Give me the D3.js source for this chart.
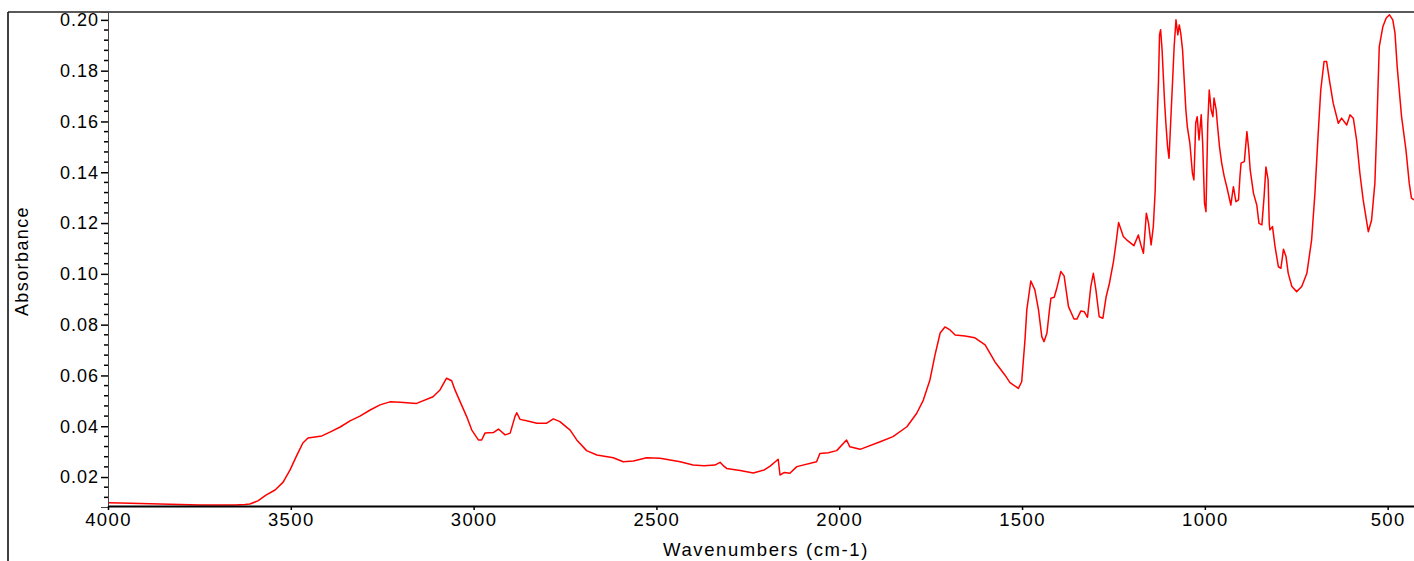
<!DOCTYPE html>
<html>
<head>
<meta charset="utf-8">
<script src="https://cdn.jsdelivr.net/npm/d3@7"></script>
<style>
  body { margin: 0; background: #fff; }
  svg { display: block; font-family: "Liberation Sans", Arial, sans-serif; }
</style>
</head>
<body>
<div id="chart"></div>
<script>
// spectrum (wavenumber cm-1, absorbance)
const wavenumbers = [
  4000, 3967, 3912, 3858, 3803, 3748, 3694, 3653, 3625, 3612,
  3590, 3568, 3543, 3521, 3502, 3483, 3467, 3453, 3434, 3415,
  3393, 3365, 3338, 3311, 3283, 3256, 3229, 3201, 3156, 3111,
  3092, 3074, 3060, 3051, 3037, 3019, 3005, 2987, 2978, 2969,
  2946, 2932, 2914, 2900, 2887, 2882, 2873, 2855, 2827, 2800,
  2782, 2764, 2736, 2718, 2691, 2663, 2618, 2591, 2563, 2527,
  2490, 2435, 2400, 2370, 2340, 2326, 2318, 2308, 2271, 2235,
  2205, 2189, 2167, 2162, 2150, 2135, 2116, 2062, 2053, 2030,
  2007, 1980, 1971, 1943, 1888, 1853,
  1815, 1788, 1770, 1752, 1738, 1724, 1711, 1697, 1683, 1656,
  1629, 1601, 1574, 1547, 1533, 1510, 1501, 1492, 1487, 1476,
  1465, 1455, 1446, 1440, 1432, 1425, 1421, 1412, 1405, 1394,
  1385, 1373, 1358, 1350, 1339, 1330, 1321, 1312, 1305, 1298,
  1289, 1279, 1270, 1261, 1250, 1243, 1236, 1223, 1214, 1194,
  1182, 1175, 1168, 1160, 1154, 1147, 1141, 1136, 1132, 1127,
  1124, 1121, 1117, 1114, 1110, 1106, 1102, 1098, 1093, 1089,
  1084, 1079, 1074, 1070, 1066, 1061, 1056, 1052, 1048, 1041,
  1034, 1030, 1025, 1021, 1016, 1010, 1006, 1001, 997, 992,
  988, 983, 978, 975, 969, 966, 960, 954, 947, 938,
  929, 922, 915, 908, 904, 901, 892, 885, 880, 876,
  867, 858, 852, 844, 838, 833, 827, 824, 822, 815,
  808, 799, 792, 785, 778, 772, 762, 749, 735, 721,
  708, 699, 690, 683, 674, 667, 658, 649, 635, 626,
  612, 603, 594, 585, 576, 567, 553, 544, 535, 530,
  523, 513, 504, 495, 486, 480, 474, 462, 450, 441,
  435, 428
];
const absorbance = [
  0.0099, 0.0098, 0.0096, 0.0094, 0.0092, 0.0090, 0.0090, 0.0090, 0.0092, 0.0094,
  0.0106, 0.0129, 0.0149, 0.0180, 0.0228, 0.0287, 0.0334, 0.0354, 0.0358, 0.0362,
  0.0377, 0.0397, 0.0421, 0.0440, 0.0464, 0.0484, 0.0496, 0.0494, 0.0490, 0.0516,
  0.0543, 0.0589, 0.0579, 0.0543, 0.0497, 0.0438, 0.0385, 0.0346, 0.0346, 0.0373,
  0.0375, 0.0389, 0.0366, 0.0373, 0.0438, 0.0453, 0.0427, 0.0422, 0.0412, 0.0412,
  0.0429, 0.0418, 0.0385, 0.0346, 0.0304, 0.0287, 0.0276, 0.0260, 0.0263, 0.0276,
  0.0274, 0.0260, 0.0247, 0.0244, 0.0247, 0.0258, 0.0246, 0.0234, 0.0226, 0.0216,
  0.0228, 0.0243, 0.0270, 0.0208, 0.0218, 0.0215, 0.0241, 0.0260, 0.0293, 0.0296,
  0.0304, 0.0346, 0.0319, 0.0309, 0.0339, 0.0359,
  0.0398, 0.0451, 0.0503, 0.0582, 0.0681, 0.0767, 0.0791, 0.0779, 0.0759, 0.0755,
  0.0748, 0.0720, 0.0653, 0.0602, 0.0572, 0.0549, 0.0575, 0.0740, 0.0858, 0.0972,
  0.0937, 0.0858, 0.0753, 0.0733, 0.0766, 0.0858, 0.0904, 0.0908, 0.0943, 0.1009,
  0.0992, 0.0871, 0.0822, 0.0822, 0.0854, 0.0851, 0.0829, 0.0950, 0.1002, 0.0937,
  0.0831, 0.0825, 0.0910, 0.0963, 0.1048, 0.1121, 0.1202, 0.1147, 0.1134, 0.1111,
  0.1153, 0.1114, 0.1081, 0.1239, 0.1199, 0.1114, 0.1186, 0.1324, 0.1540, 0.1751,
  0.1941, 0.1961, 0.1882, 0.1790, 0.1672, 0.1580, 0.1501, 0.1455, 0.1613, 0.1737,
  0.1895, 0.2000, 0.1941, 0.1980, 0.1948, 0.1882, 0.1751, 0.1646, 0.1580, 0.1514,
  0.1396, 0.1370, 0.1593, 0.1619, 0.1527, 0.1626, 0.1514, 0.1278, 0.1245, 0.1593,
  0.1724, 0.1646, 0.1619, 0.1692, 0.1646, 0.1593, 0.1501, 0.1436, 0.1383, 0.1330,
  0.1271, 0.1343, 0.1284, 0.1291, 0.1383, 0.1436, 0.1442, 0.1560, 0.1488, 0.1409,
  0.1317, 0.1271, 0.1199, 0.1193, 0.1304, 0.1421, 0.1370, 0.1199, 0.1173, 0.1186,
  0.1107, 0.1028, 0.1022, 0.1097, 0.1068, 0.1002, 0.0950, 0.0930, 0.0950, 0.1002,
  0.1134, 0.1317, 0.1554, 0.1724, 0.1836, 0.1836, 0.1751, 0.1672, 0.1593, 0.1613,
  0.1586, 0.1626, 0.1613, 0.1527, 0.1396, 0.1291, 0.1166, 0.1212, 0.1357, 0.1567,
  0.1895, 0.1974, 0.2007, 0.2020, 0.2000, 0.1948, 0.1816, 0.1619, 0.1488, 0.1357,
  0.1298, 0.1291
];
const xTicks = [4000, 3500, 3000, 2500, 2000, 1500, 1000, 500];
const yTicks = [0.02, 0.04, 0.06, 0.08, 0.10, 0.12, 0.14, 0.16, 0.18, 0.20];
const yMinorTicks = [0.012, 0.016, 0.024, 0.028, 0.032, 0.036, 0.044, 0.048, 0.052, 0.056,
  0.064, 0.068, 0.072, 0.076, 0.084, 0.088, 0.092, 0.096, 0.104, 0.108, 0.112, 0.116,
  0.124, 0.128, 0.132, 0.136, 0.144, 0.148, 0.152, 0.156, 0.164, 0.168, 0.172, 0.176,
  0.184, 0.188, 0.192, 0.196];

const W = 1414, H = 561;
const plotL = 108, plotT = 12, plotR = 1414, plotB = 507;

const svg = d3.select("#chart").append("svg")
  .attr("width", W).attr("height", H);

const x = d3.scaleLinear().domain([4000, 428]).range([plotL, plotR]);
const y = d3.scaleLinear().domain([0.0082, 0.2031]).range([plotB, plotT]);

// frame lines
svg.append("line")
  .attr("x1", 8).attr("x2", 8).attr("y1", plotT).attr("y2", H)
  .attr("stroke", "#000").attr("stroke-width", 1.5);
svg.append("line")
  .attr("x1", 8).attr("x2", W).attr("y1", plotT).attr("y2", plotT)
  .attr("stroke", "#222").attr("stroke-width", 1.5);

svg.append("defs").append("clipPath").attr("id", "clip")
  .append("rect").attr("x", plotL).attr("y", plotT)
  .attr("width", plotR - plotL).attr("height", plotB - plotT);

// spectrum
const pts = wavenumbers.map((w, i) => [w, absorbance[i]]);
const line = d3.line().x(d => x(d[0])).y(d => y(d[1]));
svg.append("path")
  .datum(pts)
  .attr("clip-path", "url(#clip)")
  .attr("d", line)
  .attr("fill", "none")
  .attr("stroke", "#ff0000")
  .attr("stroke-width", 1.5)
  .attr("stroke-linejoin", "round");

// y axis
const yAxis = d3.axisLeft(y).tickValues(yTicks).tickFormat(d3.format(".2f"))
  .tickSize(7).tickPadding(2);
const gy = svg.append("g").attr("transform", `translate(${plotL},0)`).call(yAxis);
gy.select(".domain").attr("stroke", "#444").attr("stroke-width", 1);
gy.selectAll(".tick line").attr("stroke", "#000").attr("stroke-width", 1.5);
gy.selectAll(".tick text").attr("font-size", 18).attr("fill", "#000")
  .attr("letter-spacing", 1)
  .attr("font-family", "Liberation Sans, Arial, sans-serif");
svg.append("g").selectAll("line")
  .data(yMinorTicks)
  .join("line")
  .attr("x1", plotL - 4).attr("x2", plotL)
  .attr("y1", d => y(d)).attr("y2", d => y(d))
  .attr("stroke", "#000").attr("stroke-width", 1.5);

// x axis
const xAxis = d3.axisBottom(x).tickValues(xTicks).tickFormat(d3.format("d"))
  .tickSize(4).tickPadding(3).tickSizeOuter(0);
const gx = svg.append("g").attr("transform", `translate(0,${plotB - 1})`).call(xAxis);
gx.select(".domain").attr("stroke", "#000").attr("stroke-width", 2);
gx.selectAll(".tick line").attr("stroke", "#000").attr("stroke-width", 1.5);
gx.selectAll(".tick text").attr("font-size", 18.5).attr("fill", "#000")
  .attr("letter-spacing", 1.4)
  .attr("font-family", "Liberation Sans, Arial, sans-serif");

// titles
svg.append("text")
  .attr("x", 766).attr("y", 556)
  .attr("text-anchor", "middle")
  .attr("font-size", 18.5)
  .attr("letter-spacing", 1.6)
  .text("Wavenumbers (cm-1)");
svg.append("text")
  .attr("transform", "translate(28,261) rotate(-90)")
  .attr("text-anchor", "middle")
  .attr("font-size", 18)
  .attr("letter-spacing", 1.4)
  .text("Absorbance");
</script>
</body>
</html>
